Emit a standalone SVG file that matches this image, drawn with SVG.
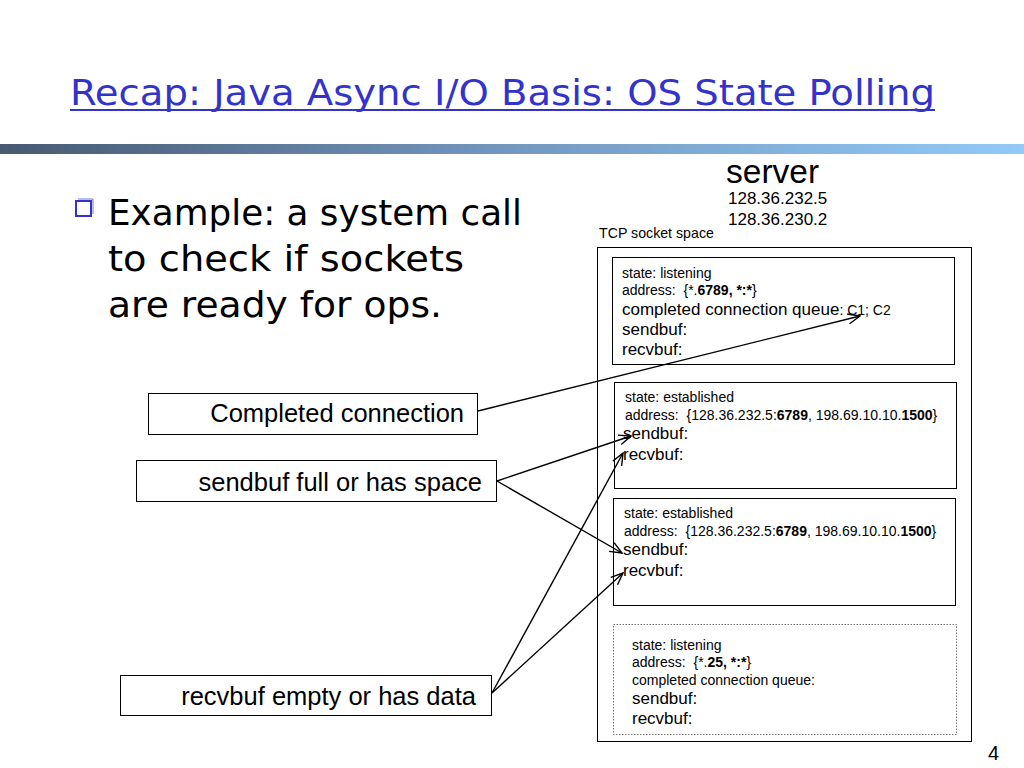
<svg xmlns="http://www.w3.org/2000/svg" width="1024" height="768" viewBox="0 0 1024 768">
<defs>
<linearGradient id="bar" x1="0" y1="0" x2="1" y2="0">
<stop offset="0" stop-color="#485a72"/>
<stop offset="0.5" stop-color="#7398c0"/>
<stop offset="1" stop-color="#92caf8"/>
</linearGradient>
<marker id="arr" markerWidth="14" markerHeight="12" refX="13" refY="6" orient="auto" markerUnits="userSpaceOnUse">
<path d="M1,1 L13,6 L1,11" fill="none" stroke="#000" stroke-width="1.4"/>
</marker>
<style>
.t{font-family:"Liberation Sans",Arial,sans-serif;fill:#000}
.s{font-size:14px}
.m{font-size:17px}
.b{font-weight:bold}
.box{fill:#fff;stroke:#000;stroke-width:1}
.lbl{font-family:"Liberation Sans",Arial,sans-serif;font-size:25.5px;text-anchor:end}
.big{font-family:"DejaVu Sans",sans-serif;font-size:36px;fill:#000}
.con{stroke:#000;stroke-width:1.4;fill:none;marker-end:url(#arr)}
</style>
</defs>
<rect width="1024" height="768" fill="#fff"/>
<g id="title">
<text x="70" y="105" font-family="DejaVu Sans Condensed, DejaVu Sans, sans-serif" font-size="35" fill="#3333cc" textLength="865" lengthAdjust="spacingAndGlyphs">Recap: Java Async I/O Basis: OS State Polling</text>
<rect x="70" y="109" width="865" height="2" fill="#3333cc"/>
</g>
<rect x="0" y="144" width="1024" height="10" fill="url(#bar)"/>
<g id="bullet">
<rect x="76" y="201" width="15" height="15" fill="#fff" stroke="#3333cc" stroke-width="2"/>
<path d="M78,199 L93,199 L93,214" fill="none" stroke="#7777dd" stroke-width="1"/>
<text class="big" x="108" y="225" textLength="414" lengthAdjust="spacingAndGlyphs">Example: a system call</text>
<text class="big" x="108" y="271" textLength="356" lengthAdjust="spacingAndGlyphs">to check if sockets</text>
<text class="big" x="108" y="317" textLength="334" lengthAdjust="spacingAndGlyphs">are ready for ops.</text>
</g>
<g id="server">
<text class="t" x="726" y="183" font-size="33.5">server</text>
<text class="t" x="728" y="204" font-size="17">128.36.232.5</text>
<text class="t" x="728" y="225" font-size="17">128.36.230.2</text>
<text class="t" x="599" y="238" font-size="14.2">TCP socket space</text>
<rect class="box" x="597.5" y="247.5" width="374" height="494"/>
</g>
<g id="sock1">
<rect class="box" x="612.5" y="257.5" width="342" height="107"/>
<text class="t s" x="622" y="278">state: listening</text>
<text class="t s" x="622" y="295">address:&#160; {*.<tspan class="b">6789, *:*</tspan>}</text>
<text class="t m" x="622" y="315">completed connection queue<tspan font-size="14">: C1; C2</tspan></text>
<text class="t m" x="622" y="335">sendbuf:</text>
<text class="t m" x="622" y="355">recvbuf:</text>
</g>
<g id="sock2">
<rect class="box" x="614.5" y="382.5" width="342" height="106"/>
<text class="t s" x="625" y="402">state: established</text>
<text class="t s" x="625" y="420">address:&#160; {128.36.232.5:<tspan class="b">6789</tspan>, 198.69.10.10.<tspan class="b">1500</tspan>}</text>
<text class="t m" x="623" y="439">sendbuf:</text>
<text class="t m" x="623" y="460">recvbuf:</text>
</g>
<g id="sock3">
<rect class="box" x="613.5" y="498.5" width="342" height="107"/>
<text class="t s" x="624" y="518">state: established</text>
<text class="t s" x="624" y="536">address:&#160; {128.36.232.5:<tspan class="b">6789</tspan>, 198.69.10.10.<tspan class="b">1500</tspan>}</text>
<text class="t m" x="623" y="555">sendbuf:</text>
<text class="t m" x="623" y="576">recvbuf:</text>
</g>
<g id="sock4">
<rect x="613.5" y="624.5" width="343" height="110" fill="#fff" stroke="#777" stroke-width="1" stroke-dasharray="1.5,1.5"/>
<text class="t s" x="632" y="650">state: listening</text>
<text class="t s" x="632" y="667">address:&#160; {*.<tspan class="b">25, *:*</tspan>}</text>
<text class="t s" x="632" y="685">completed connection queue:</text>
<text class="t m" x="632" y="704">sendbuf:</text>
<text class="t m" x="632" y="724">recvbuf:</text>
</g>
<g id="lbl-completed">
<rect class="box" x="148.5" y="393.5" width="329" height="41"/>
<text class="lbl" x="464" y="422">Completed connection</text>
</g>
<g id="lbl-sendbuf">
<rect class="box" x="136.5" y="460.5" width="360" height="41"/>
<text class="lbl" x="482" y="491">sendbuf full or has space</text>
</g>
<g id="lbl-recvbuf">
<rect class="box" x="120.5" y="675.5" width="371" height="40"/>
<text class="lbl" x="476" y="705">recvbuf empty or has data</text>
</g>
<g id="connectors">
<line class="con" x1="478" y1="411" x2="860" y2="316"/>
<line class="con" x1="497" y1="481" x2="631" y2="436"/>
<line class="con" x1="497" y1="481" x2="622" y2="553"/>
<line class="con" x1="492" y1="693" x2="623" y2="453"/>
<line class="con" x1="492" y1="693" x2="623" y2="573"/>
</g>
<text class="t" x="988" y="760" font-size="20">4</text>
</svg>
